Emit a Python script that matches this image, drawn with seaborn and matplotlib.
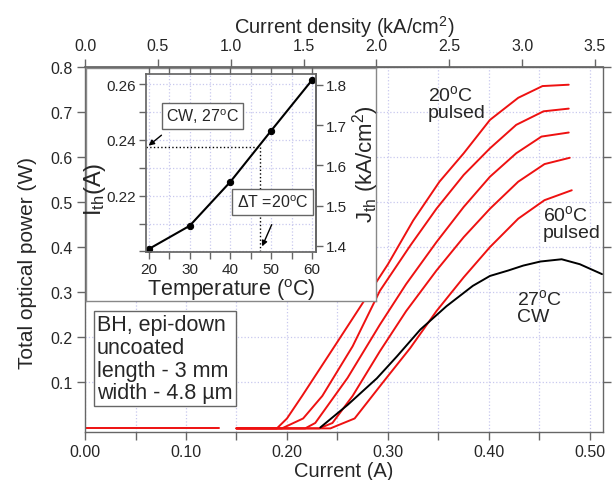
import numpy as np
import pandas as pd
import matplotlib
matplotlib.use("Agg")
import matplotlib.pyplot as plt
import seaborn as sns

# data
# pulsed L-I curves (current in A, power in W)
i_20 = [0.00, 0.133]
p_20_low = [-0.002, -0.002]
i_20c = [0.15, 0.19, 0.20, 0.215, 0.25, 0.30, 0.325, 0.351, 0.375, 0.401, 0.429, 0.453, 0.479]
p_20c = [-0.002, -0.002, 0.02, 0.07, 0.19, 0.362, 0.459, 0.545, 0.608, 0.682, 0.731, 0.757, 0.760]
i_30 = [0.15, 0.195, 0.216, 0.235, 0.265, 0.292, 0.322, 0.348, 0.375, 0.401, 0.427, 0.454, 0.479]
p_30 = [-0.002, -0.002, 0.02, 0.07, 0.18, 0.303, 0.403, 0.485, 0.560, 0.619, 0.671, 0.701, 0.707]
i_40 = [0.15, 0.218, 0.228, 0.26, 0.292, 0.318, 0.348, 0.375, 0.401, 0.427, 0.452, 0.479]
p_40 = [-0.002, -0.002, 0.01, 0.11, 0.228, 0.318, 0.411, 0.489, 0.556, 0.608, 0.645, 0.654]
i_50 = [0.15, 0.232, 0.245, 0.265, 0.292, 0.318, 0.348, 0.375, 0.401, 0.429, 0.455, 0.480]
p_50 = [-0.002, -0.002, 0.01, 0.07, 0.169, 0.258, 0.348, 0.422, 0.485, 0.545, 0.584, 0.598]
i_60 = [0.15, 0.243, 0.267, 0.295, 0.322, 0.348, 0.375, 0.401, 0.429, 0.455, 0.482]
p_60 = [-0.002, -0.002, 0.02, 0.10, 0.176, 0.258, 0.333, 0.40, 0.463, 0.504, 0.526]
# CW curve at 27 C
i_cw = [0.233, 0.26, 0.289, 0.309, 0.332, 0.358, 0.384, 0.401, 0.419, 0.434, 0.451, 0.472, 0.490, 0.512]
p_cw = [0.0, 0.05, 0.109, 0.158, 0.217, 0.269, 0.314, 0.336, 0.348, 0.359, 0.368, 0.373, 0.362, 0.340]

# inset: threshold current vs temperature
temps = [20, 30, 40, 50, 60]
ith = [0.2009, 0.2092, 0.225, 0.2433, 0.2614]
cw_ith = 0.2373
cw_equiv_temp = 47.2

area = 0.1443  # A per kA/cm2 (3 mm x 4.8 um)

sns.set_theme(style="white")
plt.rcParams["font.family"] = ["Liberation Sans", "DejaVu Sans"]
plt.rcParams["mathtext.fontset"] = "custom"
plt.rcParams["mathtext.rm"] = "Liberation Sans"
plt.rcParams["mathtext.it"] = "Liberation Sans:italic"

red = "#ee1111"
gridc = "#c8c8ee"
spc = "#666666"

fig = plt.figure(figsize=(6.16, 4.81), dpi=100)
ax = fig.add_axes([0.138, 0.0998, 0.841, 0.7595])

curves = [(i_20, p_20_low, red), (i_20c, p_20c, red), (i_30, p_30, red),
          (i_40, p_40, red), (i_50, p_50, red), (i_60, p_60, red), (i_cw, p_cw, "black")]
for x, y, c in curves:
    sns.lineplot(x=x, y=y, ax=ax, color=c, lw=1.4, estimator=None, sort=False)

ax.set_xlim(0, 0.513)
ax.set_ylim(-0.01, 0.8)
ax.set_xticks(np.arange(0, 0.51, 0.1))
ax.set_xticklabels(["%.2f" % v for v in np.arange(0, 0.51, 0.1)])
ax.set_xticks(np.arange(0, 0.51, 0.05), minor=True)
ax.set_yticks(np.arange(0.1, 0.81, 0.1))
ax.set_yticklabels(["%.1f" % v for v in np.arange(0.1, 0.81, 0.1)])
ax.tick_params(which="both", direction="out", length=6, width=1, color=spc,
               labelsize=11.5, right=True, bottom=True, left=True, pad=3)
ax.grid(which="both", axis="x", color=gridc, ls=":", lw=0.9)
ax.grid(which="major", axis="y", color=gridc, ls=":", lw=0.9)
for s in ax.spines.values():
    s.set_color(spc)
    s.set_linewidth(1)
ax.set_xlabel("Current (A)", fontsize=14.5, labelpad=1)
ax.set_ylabel("Total optical power (W)", fontsize=15)
ax.yaxis.set_label_coords(-0.093, 0.465)

secx = ax.secondary_xaxis("top", functions=(lambda i: i / area, lambda j: j * area))
secx.set_xticks(np.arange(0, 3.6, 0.5))
secx.set_xticklabels(["%.1f" % v for v in np.arange(0, 3.6, 0.5)])
secx.tick_params(direction="out", length=6, width=1, color=spc, labelsize=11.5)
secx.spines["top"].set_color(spc)
secx.set_xlabel("Current density (kA/cm$^2$)", fontsize=14.5, labelpad=4)

ax.text(0.023, 0.322, "BH, epi-down\nuncoated\nlength - 3 mm\nwidth - 4.8 µm",
        transform=ax.transAxes, va="top", ha="left", fontsize=15.5, linespacing=1.1,
        bbox=dict(boxstyle="square,pad=0.15", fc="white", ec=spc, lw=1))

ax.text(0.3396, 0.761, "20$^{\\rm o}$C\npulsed", va="top", ha="left", fontsize=14, linespacing=1.0)
ax.text(0.4535, 0.496, "60$^{\\rm o}$C\npulsed", va="top", ha="left", fontsize=14, linespacing=1.0)
ax.text(0.4277, 0.310, "27$^{\\rm o}$C\nCW", va="top", ha="left", fontsize=14, linespacing=1.0)

# inset frame
fr = fig.add_axes([0.140, 0.372, 0.470, 0.485])
fr.set_xticks([])
fr.set_yticks([])
fr.set_facecolor("white")
for s in fr.spines.values():
    s.set_color("#888888")
    s.set_linewidth(1)

axi = fig.add_axes([0.2365, 0.474, 0.2765, 0.370])
sns.lineplot(x=temps, y=ith, ax=axi, color="black", lw=1.5, marker="o", markersize=4.5,
             markeredgecolor="black", estimator=None)
axi.set_xlim(19.2, 61)
axi.set_ylim(0.1998, 0.2636)
axi.set_xticks([20, 30, 40, 50, 60])
axi.set_xticks(np.arange(20, 61, 5), minor=True)
axi.set_yticks([0.22, 0.24, 0.26])
axi.set_yticks(np.arange(0.20, 0.264, 0.01), minor=True)
axi.tick_params(which="both", direction="out", length=5, width=1, color=spc,
                labelsize=11, top=True, bottom=True, left=True, pad=2)
axi.grid(which="both", color=gridc, ls=":", lw=0.9)
for s in axi.spines.values():
    s.set_color(spc)
axi.set_xlabel("Temperature ($^{\\rm o}$C)", fontsize=15.5, labelpad=0)
axi.set_ylabel("I$_{\\rm th}$(A)", fontsize=17)
axi.yaxis.set_label_coords(-0.22, 0.36)

secy = axi.secondary_yaxis("right", functions=(lambda i: i / area, lambda j: j * area))
secy.set_yticks([1.4, 1.5, 1.6, 1.7, 1.8])
secy.tick_params(direction="out", length=5, width=1, color=spc, labelsize=11, pad=2)
secy.spines["right"].set_color(spc)
secy.set_ylabel("J$_{\\rm th}$ (kA/cm$^2$)", fontsize=16, labelpad=2)

# CW threshold read across to the pulsed curve
axi.plot([19.2, cw_equiv_temp], [cw_ith, cw_ith], ls=":", color="black", lw=1)
axi.plot([cw_equiv_temp, cw_equiv_temp], [cw_ith, 0.2003], ls=":", color="black", lw=1)

axi.text(33.2, 0.2485, "CW, 27$^{\\rm o}$C", ha="center", va="center", fontsize=11.5,
         bbox=dict(boxstyle="square,pad=0.25", fc="white", ec=spc, lw=1))
axi.annotate("", xy=(19.4, cw_ith), xytext=(23.6, 0.2423),
             arrowprops=dict(arrowstyle="-|>", color="black", lw=1, mutation_scale=8))
axi.text(50.4, 0.2177, "ΔT =20$^{\\rm o}$C", ha="center", va="center", fontsize=11.5,
         bbox=dict(boxstyle="square,pad=0.3", fc="white", ec=spc, lw=1))
axi.annotate("", xy=(47.5, 0.2009), xytext=(50.4, 0.2105),
             arrowprops=dict(arrowstyle="-|>", color="black", lw=1, mutation_scale=8))

fig.savefig("out.png", dpi=100)
